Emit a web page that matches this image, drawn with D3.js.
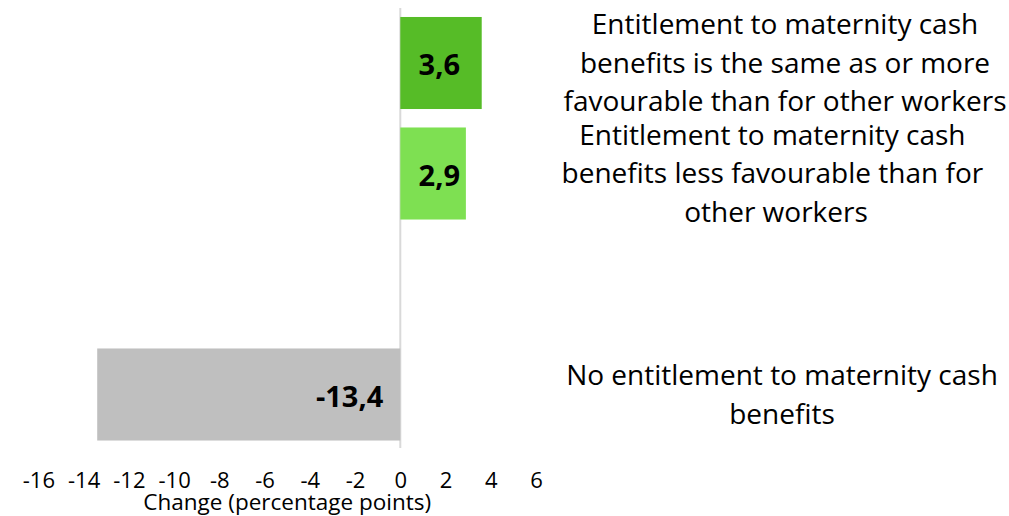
<!DOCTYPE html>
<html><head><meta charset="utf-8">
<script src="https://cdn.jsdelivr.net/npm/d3@7"></script>
<style>body{margin:0;background:#fff;overflow:hidden}svg{display:block}</style>
</head><body>
<svg id="c" width="1009" height="516"></svg>
<script>
const categories = ["same", "less", "gap", "none"];
const categoryLines = [
  ["Entitlement to maternity cash", "benefits is the same as or more", "favourable than for other workers"],
  ["Entitlement to maternity cash ", "benefits less favourable than for ", "other workers"],
  [],
  ["No entitlement to maternity cash", "benefits"]
];
const values = [3.6, 2.9, null, -13.4];
const valueLabels = ["3,6", "2,9", "", "-13,4"];
const colors = ["#56BC27", "#7EE052", "none", "#BFBFBF"];
const xTicks = [-16, -14, -12, -10, -8, -6, -4, -2, 0, 2, 4, 6];
const xTitle = "Change (percentage points)";

const svg = d3.select("#c");
const font = "'Open Sans', sans-serif";
const x = d3.scaleLinear().domain([-16, 6]).range([38.4, 536]);
const y = d3.scaleBand().domain(categories).range([7.75, 449.75]).paddingInner(0.167).paddingOuter(0.0835);

// zero axis line
svg.append("line").attr("x1", x(0)).attr("x2", x(0)).attr("y1", 8).attr("y2", 448)
  .attr("stroke", "#D9D9D9").attr("stroke-width", 2);

const data = categories.map((c, i) => ({c, v: values[i], lab: valueLabels[i], col: colors[i], lines: categoryLines[i]}));

svg.selectAll("rect.bar").data(data.filter(d => d.v != null)).join("rect")
  .attr("class", "bar")
  .attr("x", d => x(Math.min(0, d.v)))
  .attr("width", d => Math.abs(x(d.v) - x(0)))
  .attr("y", d => y(d.c)).attr("height", y.bandwidth())
  .attr("fill", d => d.col);

svg.selectAll("text.val").data(data.filter(d => d.v != null)).join("text")
  .attr("class", "val")
  .attr("x", d => d.v >= 0 ? x(0) + 39 : x(0) - 17)
  .attr("y", d => y(d.c) + y.bandwidth() / 2 + 2)
  .attr("dy", "0.35em")
  .attr("text-anchor", d => d.v >= 0 ? "middle" : "end")
  .attr("font-family", font).attr("font-weight", "bold").attr("font-size", 29)
  .attr("fill", "#000").text(d => d.lab);

// category labels on right
const lh = 38.5;
const lx = [785, 776, 0, 782];
data.forEach((d, i) => {
  const n = d.lines.length;
  if (!n) return;
  const cy = y(d.c) + y.bandwidth() / 2;
  const t = svg.append("text").attr("text-anchor", "middle")
    .attr("font-family", font).attr("font-size", 28).attr("fill", "#000")
    .attr("xml:space", "preserve").style("white-space", "pre");
  d.lines.forEach((ln, j) => {
    t.append("tspan").attr("x", lx[i]).attr("y", cy + (j - (n - 1) / 2) * lh).attr("dy", "0.35em").text(ln);
  });
});

// x axis
const ax = d3.axisBottom(x).tickValues(xTicks).tickSize(0).tickPadding(0).tickFormat(d => d);
const g = svg.append("g").attr("transform", "translate(0,472)").call(ax);
g.select(".domain").remove();
g.selectAll("text").attr("font-family", font).attr("font-size", 22).attr("fill", "#000");

svg.append("text").attr("x", x(-5)).attr("y", 510).attr("text-anchor", "middle")
  .attr("font-family", font).attr("font-size", 22.5).attr("fill", "#000").text(xTitle);
</script>
</body></html>
